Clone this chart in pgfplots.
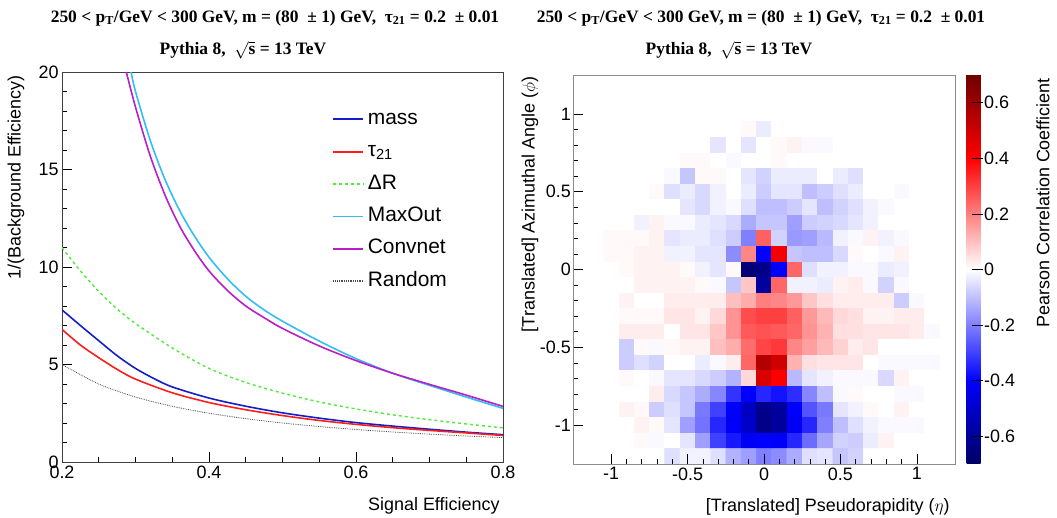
\documentclass[border=0pt]{standalone}
\usepackage{fontspec}
\setmainfont{Liberation Sans}
\newfontfamily\titlefont{Liberation Serif}
\usepackage{pgfplots}
\pgfplotsset{compat=1.18}
\definecolor{cmass}{RGB}{20,30,200}
\definecolor{ctau}{RGB}{250,30,30}
\definecolor{cdr}{RGB}{80,235,60}
\definecolor{cmax}{RGB}{50,190,240}
\definecolor{cconv}{RGB}{185,30,200}
\newcommand{\tickfont}{\fontsize{18}{20}\selectfont}
\newcommand{\ttl}{\titlefont\bfseries\fontsize{17.5}{20}\selectfont}
\begin{document}
\begin{tikzpicture}[x=1bp,y=1bp]
\useasboundingbox (0,0) rectangle (1057,518);

% titles
\node[font=\ttl] at (275,500) {250 < p\textsubscript{T}/GeV < 300 GeV, m = (80\ \ ± 1) GeV,\ \ τ\textsubscript{21} = 0.2\ \ ± 0.01};
\node[font=\ttl] at (243,468) {Pythia 8,\ \ $\sqrt{\mbox{s}}$ = 13 TeV};
\node[font=\ttl] at (761,500) {250 < p\textsubscript{T}/GeV < 300 GeV, m = (80\ \ ± 1) GeV,\ \ τ\textsubscript{21} = 0.2\ \ ± 0.01};
\node[font=\ttl] at (729,468) {Pythia 8,\ \ $\sqrt{\mbox{s}}$ = 13 TeV};

% left panel
\begin{axis}[
  at={(62bp,56bp)}, anchor=south west, scale only axis,
  width=441bp, height=390bp,
  xmin=0.2, xmax=0.8, ymin=0, ymax=20,
  xtick={0.2,0.4,0.6,0.8}, ytick={0,5,10,15,20},
  minor x tick num=3, minor y tick num=4,
  tick pos=left, tick align=inside,
  major tick length=10bp, minor tick length=5bp,
  tick style={black, line width=0.6bp},
  axis line style={line width=0.8bp, black!75},
  ticklabel style={font=\tickfont},
  /pgf/number format/assume math mode=true,
  legend style={at={(0.613,0.905)}, anchor=north west, draw=none, fill=none,
    inner sep=0pt, row sep=12.4bp, font=\fontsize{21}{24}\selectfont,
    nodes={inner xsep=3.5bp, inner ysep=0bp, text height=15bp, text depth=5bp}},
  legend cell align=left,
  legend image code/.code={\draw[#1, line width=1.8bp] (0bp,0bp) -- (30bp,0bp);},
]
\addplot[cmass, line width=1.6bp, smooth] coordinates {
  (0.2,7.8) (0.225,7.0) (0.25,6.22) (0.275,5.45) (0.3,4.8) (0.325,4.28)
  (0.35,3.85) (0.4,3.28) (0.45,2.86) (0.5,2.52) (0.55,2.25) (0.6,2.02)
  (0.65,1.84) (0.7,1.68) (0.75,1.53) (0.8,1.4)};
\addlegendentry{mass}
\addplot[ctau, line width=1.6bp, smooth] coordinates {
  (0.2,6.8) (0.225,6.0) (0.25,5.35) (0.275,4.75) (0.3,4.25) (0.35,3.55)
  (0.4,3.05) (0.45,2.68) (0.5,2.38) (0.55,2.13) (0.6,1.93) (0.65,1.76)
  (0.7,1.62) (0.75,1.49) (0.8,1.36)};
\addlegendentry{τ\textsubscript{21}}
\addplot[cdr, line width=1.4bp, dashed, smooth] coordinates {
  (0.2,11.0) (0.225,9.8) (0.25,8.75) (0.275,7.85) (0.3,7.1) (0.35,5.85)
  (0.4,4.8) (0.45,4.08) (0.5,3.53) (0.55,3.08) (0.6,2.72) (0.65,2.42)
  (0.7,2.17) (0.75,1.95) (0.8,1.75)};
\addlegendentry{ΔR}
\addplot[cmax, line width=1.6bp, smooth] coordinates {
  (0.294,20) (0.3,19.0) (0.32,16.5) (0.34,14.5) (0.36,12.9) (0.38,11.6)
  (0.4,10.5) (0.425,9.4) (0.45,8.5) (0.475,7.8) (0.5,7.22) (0.55,6.2)
  (0.6,5.3) (0.65,4.55) (0.7,3.93) (0.75,3.33) (0.8,2.75)};
\addlegendentry{MaxOut}
\addplot[cconv, line width=1.6bp, smooth] coordinates {
  (0.2875,20) (0.3,18.2) (0.32,15.7) (0.34,13.7) (0.36,12.1) (0.38,10.85)
  (0.4,9.8) (0.425,8.8) (0.45,8.0) (0.475,7.4) (0.5,6.85) (0.55,5.95)
  (0.6,5.2) (0.65,4.55) (0.7,3.98) (0.75,3.43) (0.8,2.85)};
\addlegendentry{Convnet}
\addplot[black!70, line width=0.8bp, densely dotted, smooth] coordinates {
  (0.2,5) (0.25,4) (0.3,3.333) (0.35,2.857) (0.4,2.5) (0.45,2.222)
  (0.5,2) (0.55,1.818) (0.6,1.667) (0.65,1.538) (0.7,1.429) (0.75,1.333)
  (0.8,1.25)};
\addlegendentry{Random}
\end{axis}
\node[anchor=east, font=\tickfont] at (503,12) {Signal Efficiency};
\node[rotate=90, anchor=east, font=\tickfont] at (16,446) {1/(Background Efficiency)};

% right panel
\begin{axis}[
  at={(573bp,54bp)}, anchor=south west, scale only axis,
  width=382bp, height=389bp,
  xmin=-1.25, xmax=1.25, ymin=-1.25, ymax=1.25,
  xtick={-1,-0.5,0,0.5,1}, ytick={-1,-0.5,0,0.5,1},
  minor x tick num=4, minor y tick num=4,
  tick pos=left, tick align=inside,
  major tick length=10bp, minor tick length=5bp,
  tick style={black, line width=0.6bp},
  axis line style={line width=0.8bp, black!45},
  axis on top,
  ticklabel style={font=\tickfont},
  yticklabel style={inner xsep=2bp},
  /pgf/number format/assume math mode=true,
  colormap={pearson}{rgb255(0)=(0,0,100) rgb255(3)=(0,0,255) rgb255(7)=(255,255,255) rgb255(11)=(255,0,0) rgb255(14)=(110,0,0)},
  point meta min=-0.7, point meta max=0.7,
  colorbar,
  colorbar style={
    at={(parent axis.north east)}, anchor=north west, xshift=3bp,
    width=27bp,
    ytick={-0.6,-0.4,-0.2,0,0.2,0.4,0.6},
    ytick pos=right, yticklabel pos=right,
    tick align=inside, ytick align=inside, major tick length=11bp,
    tick style={black, line width=0.6bp, xshift=-11bp},
    yticklabel style={font=\tickfont, inner xsep=1.5bp, xshift=-11bp},
    axis line style={draw=none},
    /pgf/number format/assume math mode=true,
  },
]
\addplot[matrix plot*, mesh/cols=25, mesh/rows=25, point meta=explicit]
  table[row sep=\\, header=false, meta index=0,
        x expr={-1.2+0.1*mod(\coordindex,25)},
        y expr={1.2-0.1*floor(\coordindex/25)}] {
0\\0\\0\\0\\0\\ 0\\0\\0\\0\\0\\ 0\\0\\0\\0\\0\\ 0\\0\\0\\0\\0\\ 0\\0\\0\\0\\0\\
0\\0\\0\\0\\0\\ 0\\0\\0\\0\\0\\ 0\\0\\0\\0\\0\\ 0\\0\\0\\0\\0\\ 0\\0\\0\\0\\0\\
0\\0\\0\\0\\0\\ 0\\0\\0\\0\\0\\ 0\\0\\0\\0\\0\\ 0\\0\\0\\0\\0\\ 0\\0\\0\\0\\0\\
0\\0\\0\\0\\0\\ 0\\0\\0\\0\\0\\ 0\\0.01\\-0.03\\0\\0\\ 0\\0\\0\\0\\0\\ 0\\0\\0\\0\\0\\
0\\0\\0\\0\\0\\ 0\\0\\0\\0\\-0.04\\ 0\\-0.04\\0\\0.01\\0.02\\ -0.01\\-0.01\\0\\0\\0\\ 0\\0\\0\\0\\0\\
0\\0\\0\\0\\0\\ 0\\0\\0.01\\0.01\\0\\ -0.01\\0\\0\\0.01\\0\\ 0\\0\\0\\0\\0\\ 0\\0\\0\\0\\0\\
0\\0\\0\\0\\0\\ 0\\-0.01\\-0.09\\0.01\\0.01\\ 0\\-0.04\\-0.07\\-0.03\\-0.03\\ -0.03\\0\\-0.03\\-0.05\\0\\ 0\\0\\0\\0\\0\\
0\\0\\0\\0\\0\\ 0.01\\-0.05\\-0.03\\-0.06\\-0.02\\ 0\\-0.03\\-0.08\\-0.04\\-0.04\\ -0.1\\-0.08\\-0.05\\-0.03\\0\\ 0\\-0.01\\0\\0\\0\\
0\\0\\0\\0\\0\\ 0\\0\\-0.04\\-0.06\\-0.02\\ -0.01\\-0.05\\-0.1\\-0.1\\-0.08\\ -0.04\\-0.1\\-0.07\\-0.05\\-0.02\\ -0.01\\0\\0\\0\\0\\
0\\0\\0\\0\\-0.02\\ 0.02\\-0.01\\-0.01\\-0.03\\-0.04\\ -0.06\\-0.13\\-0.09\\-0.09\\-0.15\\ -0.08\\-0.07\\-0.06\\-0.04\\-0.02\\ 0\\0\\0\\0\\0\\
0\\0\\0.01\\0.01\\0.01\\ 0.02\\-0.04\\-0.03\\-0.03\\-0.05\\ -0.08\\-0.2\\0.25\\-0.07\\-0.16\\ -0.15\\-0.11\\-0.02\\-0.01\\0.02\\ -0.02\\-0.01\\0\\0\\0\\
0\\0\\0.01\\0.01\\0.02\\ 0.02\\-0.02\\-0.02\\-0.04\\-0.04\\ -0.18\\0.19\\-0.4\\0.42\\-0.09\\ -0.1\\-0.1\\-0.06\\0.01\\0\\ -0.01\\0.02\\0\\0\\0\\
0\\0\\0\\0.01\\0.02\\ 0.02\\0.02\\0.01\\-0.02\\-0.04\\ 0.01\\-0.66\\-0.63\\-0.4\\0.24\\ -0.05\\-0.02\\-0.02\\-0.01\\-0.01\\ -0.03\\-0.02\\0\\0\\0\\
0\\0\\0\\0\\0.02\\ 0.02\\0.02\\0.02\\0.01\\-0.01\\ -0.09\\0.09\\-0.59\\0.24\\-0.02\\ -0.02\\-0.03\\0.02\\0.03\\-0.01\\ -0.07\\-0.01\\0\\0\\0\\
0\\0\\0\\0.02\\0\\ 0\\0.03\\0.03\\0.03\\0.03\\ 0.1\\0.13\\0.2\\0.19\\0.16\\ 0.09\\0.05\\0.03\\0.03\\0.03\\ 0.03\\-0.08\\-0.01\\0\\0\\
0\\0\\0\\0.01\\0.01\\ 0.01\\0.04\\0.04\\0.02\\0.06\\ 0.17\\0.28\\0.3\\0.3\\0.25\\ 0.16\\0.11\\0.06\\0.05\\0.02\\ 0.02\\0.03\\0.03\\0\\0\\
0\\0\\0\\0.03\\0.03\\ 0.03\\0\\0.04\\0.04\\0.09\\ 0.17\\0.26\\0.27\\0.26\\0.24\\ 0.17\\0.12\\0.05\\0.05\\0.04\\ 0.04\\0.04\\0.03\\-0.01\\0\\
0\\0\\0\\-0.08\\0.01\\ -0.01\\0.01\\0.02\\0.02\\0.1\\ 0.13\\0.23\\0.29\\0.31\\0.19\\ 0.15\\0.11\\0.07\\0.03\\0.04\\ 0\\0\\0\\0\\0\\
0\\0\\0\\-0.08\\-0.05\\ -0.07\\0\\0\\-0.03\\-0.01\\ 0.03\\0.24\\0.56\\0.5\\0.12\\ 0.05\\0.04\\0.04\\0.04\\0\\ -0.01\\-0.01\\-0.01\\-0.01\\0\\
0\\0\\0\\0.01\\0\\ -0.01\\-0.04\\-0.04\\-0.06\\-0.08\\ -0.12\\0.06\\0.48\\0.41\\-0.11\\ -0.04\\-0.02\\-0.01\\-0.01\\-0.01\\ -0.06\\0.02\\0\\0\\0\\
0\\0\\0\\0\\0\\ 0.03\\-0.06\\-0.09\\-0.13\\-0.19\\ -0.32\\-0.4\\-0.34\\-0.37\\-0.33\\ -0.19\\-0.1\\-0.01\\0.01\\0\\ 0\\-0.01\\-0.01\\0\\0\\
0\\0\\0\\0.02\\0.01\\ -0.08\\-0.05\\-0.09\\-0.21\\-0.3\\ -0.4\\-0.52\\-0.62\\-0.59\\-0.4\\ -0.27\\-0.21\\-0.04\\-0.02\\0.01\\ 0\\0.02\\0\\0\\0\\
0\\0\\0\\0\\0.02\\ 0.01\\-0.04\\-0.15\\-0.22\\-0.34\\ -0.41\\-0.5\\-0.63\\-0.59\\-0.42\\ -0.34\\-0.2\\-0.1\\-0.05\\-0.02\\ -0.01\\-0.01\\-0.01\\0\\0\\
0\\0\\0\\0\\0.01\\ -0.01\\0\\-0.04\\-0.15\\-0.3\\ -0.36\\-0.42\\-0.4\\-0.41\\-0.34\\ -0.23\\-0.14\\-0.07\\-0.08\\-0.03\\ 0.02\\0\\0\\0\\0\\
0\\0\\0\\0\\0\\ 0\\-0.05\\-0.02\\-0.02\\-0.05\\ -0.12\\-0.15\\-0.2\\-0.18\\-0.13\\ -0.05\\-0.04\\-0.09\\-0.07\\0\\ 0\\0\\0\\0\\0\\
};
\end{axis}
\node[anchor=east, font=\tickfont] at (953,11) {[Translated] Pseudorapidity ($\eta$)};
\node[rotate=90, anchor=east, font=\tickfont] at (530,445) {[Translated] Azimuthal Angle ($\phi$)};
\node[rotate=90, anchor=east, font=\tickfont] at (1043,443) {Pearson Correlation Coefficient};
\end{tikzpicture}
\end{document}
